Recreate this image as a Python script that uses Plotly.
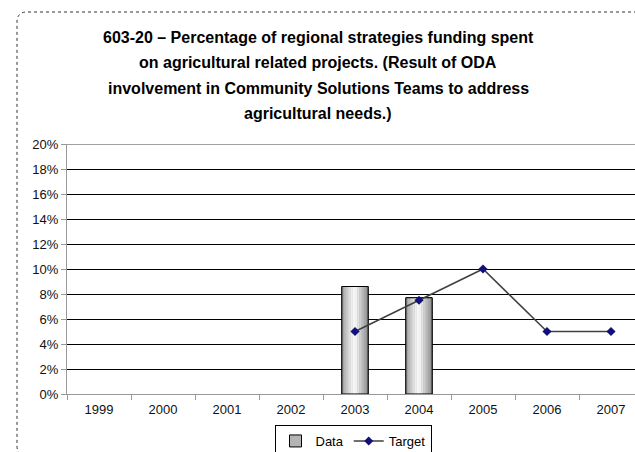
import plotly.graph_objects as go

# Chart data
years = ["1999", "2000", "2001", "2002", "2003", "2004", "2005", "2006", "2007"]
data_values = [None, None, None, None, 0.086, 0.077, None, None, None]
target_values = [None, None, None, None, 0.05, 0.075, 0.10, 0.05, 0.05]
y_ticks = [0, 0.02, 0.04, 0.06, 0.08, 0.10, 0.12, 0.14, 0.16, 0.18, 0.20]
title_lines = [
    "603-20 – Percentage of regional strategies funding spent",
    "on agricultural related projects. (Result of ODA",
    "involvement in Community Solutions Teams to address",
    "agricultural needs.)",
]

W, H = 635, 452
M_L, M_R, M_T, M_B = 67, 0, 144, 58
BAR_W = 0.41
FONT = "Liberation Sans"

fig = go.Figure()

# base bar (gives the legend entry and the outline)
fig.add_trace(go.Bar(
    x=years, y=data_values, name="Data", width=BAR_W,
    marker=dict(color="#b4b4b4", line=dict(color="#000000", width=1)),
))

# horizontal shading of the bars drawn as thin strips
shades = ["#a4a4a4", "#b8b8b8", "#cdcdcd", "#e0e0e0", "#efefef", "#f6f6f6",
          "#f0f0f0", "#e2e2e2", "#cfcfcf", "#bababa", "#a6a6a6", "#959595"]
n = len(shades)
strip = BAR_W / n
for i, c in enumerate(shades):
    fig.add_trace(go.Bar(
        x=years, y=data_values, width=strip, offset=-BAR_W / 2 + i * strip,
        marker=dict(color=c, line=dict(width=0)),
        showlegend=False, hoverinfo="skip",
    ))

# outline on top of the strips
fig.add_trace(go.Bar(
    x=years, y=data_values, width=BAR_W,
    marker=dict(color="rgba(0,0,0,0)", line=dict(color="#000000", width=1)),
    showlegend=False, hoverinfo="skip",
))

fig.add_trace(go.Scatter(
    x=years, y=target_values, name="Target", mode="lines+markers",
    line=dict(color="#404040", width=1.5),
    marker=dict(symbol="diamond", size=7, color="#10107a",
                line=dict(color="#10107a", width=0)),
    connectgaps=False,
))

# pixel -> paper helpers
px = lambda v: (v - M_L) / (W - M_L - M_R)
py = lambda v: (H - M_B - v) / (H - M_T - M_B)

# outer frame with rounded left corners (dotted)
x0, y0, r = 17, 12, 10
frame = (f"M {px(W + 20)},{py(y0)} L {px(x0 + r)},{py(y0)} "
         f"Q {px(x0)},{py(y0)} {px(x0)},{py(y0 + r)} "
         f"L {px(x0)},{py(446)} Q {px(x0)},{py(456)} {px(x0 + r)},{py(456)} "
         f"L {px(W + 20)},{py(456)}")
fig.add_shape(type="path", path=frame, xref="paper", yref="paper",
              line=dict(color="#333333", width=1, dash="dot"), layer="below")

# top border of the plot area
fig.add_shape(type="line", xref="paper", yref="y", x0=0, x1=1, y0=0.20, y1=0.20,
              line=dict(color="#808080", width=1.5), layer="above")

# title, one line per annotation
for i, line in enumerate(title_lines):
    fig.add_annotation(
        text=f"<b>{line}</b>", xref="paper", yref="paper",
        x=px(318), y=py(37 + i * 25.5), xanchor="center", yanchor="middle",
        showarrow=False, font=dict(size=16, color="#000000", family=FONT),
    )

fig.update_layout(
    width=W, height=H,
    margin=dict(l=M_L, r=M_R, t=M_T, b=M_B, autoexpand=False),
    paper_bgcolor="white", plot_bgcolor="white",
    barmode="overlay",
    showlegend=True,
    font=dict(family=FONT, color="#1a1a1a", size=13),
    legend=dict(
        orientation="h", x=px(353), xanchor="center", xref="paper",
        y=py(425), yanchor="top",
        bordercolor="#000000", borderwidth=1, bgcolor="white",
        font=dict(size=13, color="#000000", family=FONT),
        itemwidth=30, tracegroupgap=0,
    ),
    xaxis=dict(
        type="category", range=[-0.5, -0.5 + (W - M_L - M_R) / 64.0],
        tickson="boundaries", ticks="outside", ticklen=5, tickcolor="#999999",
        ticklabelstandoff=3,
        showline=True, linecolor="#999999", linewidth=1,
        showgrid=False, zeroline=False,
        tickfont=dict(size=13, color="#111111", family=FONT),
    ),
    yaxis=dict(
        range=[0, 0.20], tickvals=y_ticks, tickformat=".0%",
        ticks="outside", ticklen=5, tickcolor="#999999",
        showline=True, linecolor="#999999", linewidth=1,
        showgrid=True, gridcolor="#000000", gridwidth=1.2,
        zeroline=False,
        tickfont=dict(size=13, color="#111111", family=FONT),
    ),
)

fig.write_html("out.html")
